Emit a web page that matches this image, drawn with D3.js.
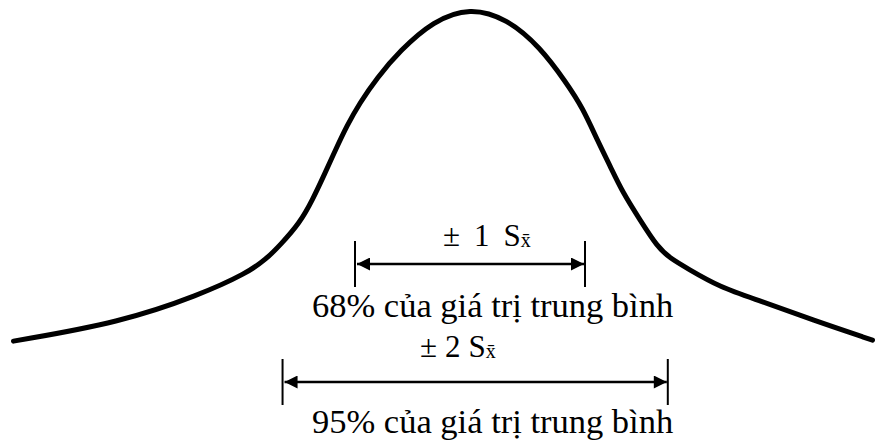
<!DOCTYPE html>
<html lang="vi">
<head>
<meta charset="UTF-8">
<title>Phân phối trung bình</title>
<script src="https://d3js.org/d3.v7.min.js"></script>
<style>
body { margin: 0; background: #fff; }
svg { display: block; }
.curve { fill: none; stroke: #000; stroke-width: 5; stroke-linecap: round; stroke-linejoin: round; }
.span-line { stroke: #000; stroke-width: 2.6; }
.tick { stroke: #000; stroke-width: 2; }
</style>
</head>
<body>
<div id="chart"></div>
<script>
// curve points, x in units of S (mean = 0), height relative to peak
const curveX = [-3.97, -3.04, -2.35, -1.94, -1.77, -1.65, -1.48, -1.37, -1.26, -1.17, -1.07,
  -0.96, -0.81, -0.61, -0.32, 0, 0.32, 0.61, 0.84, 0.98, 1.11, 1.22, 1.33, 1.48, 1.63, 1.74, 1.89,
  2.17, 2.52, 2.98, 3.50];
const curveH = [0.026, 0.081, 0.162, 0.226, 0.268, 0.309, 0.374, 0.441, 0.521, 0.588, 0.660,
  0.726, 0.800, 0.880, 0.968, 1.008, 0.975, 0.891, 0.785, 0.712, 0.615, 0.540, 0.462, 0.382, 0.303,
  0.270, 0.240, 0.185, 0.145, 0.088, 0.029];

// the two ranges marked under the curve
const spanLabels = ["1", "2"];
const spanFrom = [-1.0, -1.63];
const spanTo = [1.0, 1.72];
const spanNotes = ["68% của giá trị trung bình", "95% của giá trị trung bình"];

const width = 876, height = 445;
const serif = "'Liberation Serif', 'Times New Roman', Times, 'DejaVu Serif', serif";

const svg = d3.select("#chart").append("svg")
  .attr("width", width)
  .attr("height", height);

const x = d3.scaleLinear().domain([0, 1]).range([470, 585]);
const y = d3.scaleLinear().domain([0, 1]).range([350, 10]);

const pts = curveX.map((d, i) => [d, curveH[i]]);

const line = d3.line()
  .x(d => x(d[0]))
  .y(d => y(d[1]))
  .curve(d3.curveBasis);

svg.append("path")
  .attr("class", "curve")
  .attr("d", line(pts));

// arrowhead
svg.append("defs").append("marker")
  .attr("id", "head")
  .attr("viewBox", "0 0 10 10")
  .attr("refX", 10).attr("refY", 5)
  .attr("markerWidth", 5.8).attr("markerHeight", 5)
  .attr("markerUnits", "strokeWidth")
  .attr("orient", "auto-start-reverse")
  .append("path")
  .attr("d", "M0,0 L10,5 L0,10 Z")
  .attr("fill", "#000");

// layout of each annotation row
const rowY = [264, 382];
const tickHalf = 23;
const labelY = [246, 357];
const noteY = [317, 433];
const labelX = [443, 420];
const labelGap = [14, 8];

spanLabels.forEach((lab, i) => {
  const g = svg.append("g");
  const x0 = x(spanFrom[i]), x1 = x(spanTo[i]);

  g.append("line").attr("class", "tick")
    .attr("x1", x0).attr("x2", x0)
    .attr("y1", rowY[i] - tickHalf).attr("y2", rowY[i] + tickHalf);
  g.append("line").attr("class", "tick")
    .attr("x1", x1).attr("x2", x1)
    .attr("y1", rowY[i] - tickHalf).attr("y2", rowY[i] + tickHalf);

  g.append("line").attr("class", "span-line")
    .attr("x1", x0 + 2).attr("x2", x1 - 1)
    .attr("y1", rowY[i]).attr("y2", rowY[i])
    .attr("marker-start", "url(#head)")
    .attr("marker-end", "url(#head)");

  // "± n Sx̄"
  const t = g.append("text")
    .attr("x", labelX[i])
    .attr("y", labelY[i])
    .attr("font-family", serif)
    .attr("font-size", 31);
  t.append("tspan").text("±");
  t.append("tspan").attr("dx", labelGap[i]).text(lab);
  t.append("tspan").attr("dx", labelGap[i]).text("S");
  t.append("tspan").attr("font-size", 20).attr("dy", 1).text("x\u0304");

  g.append("text")
    .attr("x", 312)
    .attr("y", noteY[i])
    .attr("font-family", serif)
    .attr("font-size", 34.5)
    .text(spanNotes[i]);
});
</script>
</body>
</html>
